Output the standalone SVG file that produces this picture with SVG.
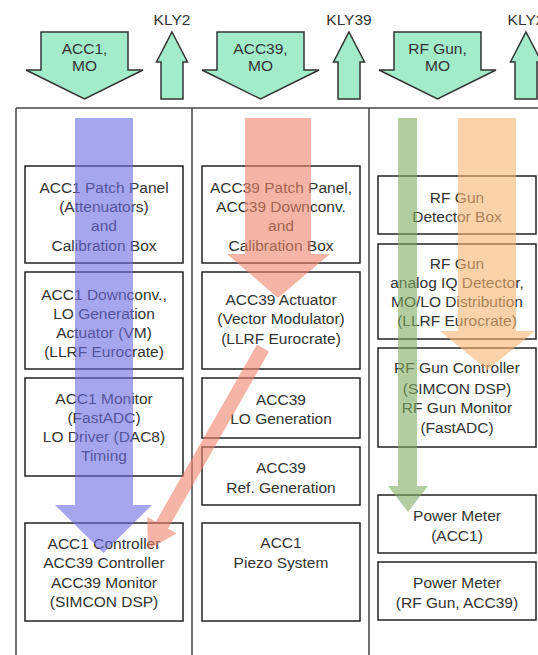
<svg xmlns="http://www.w3.org/2000/svg" width="538" height="655" viewBox="0 0 538 655">
<style>
.bg{fill:#ffffff}
.rail{stroke:#444;stroke-width:1.5;fill:none}
.box{fill:#ffffff;stroke:#222;stroke-width:1.5}
.t{font-family:"Liberation Sans",Arial,sans-serif;font-size:15.5px;fill:#333;text-anchor:middle}
.tarrow{fill:#a3ecc9;stroke:#333;stroke-width:1.5;stroke-linejoin:miter}
.blue{fill:#6a6ae3;fill-opacity:0.6}
.red{fill:#ee8269;fill-opacity:0.6}
.green{fill:#82ac61;fill-opacity:0.6}
.orange{fill:#fab471;fill-opacity:0.6}
</style>
<defs>
<polygon id="down" points="41,32 128,32 128,70 143,70 84.5,99 26,70 41,70"/>
<polygon id="up" points="172,32 187.5,62 183,62 183,99 161,99 161,62 156.5,62"/>
</defs>
<rect class="bg" x="0" y="0" width="538" height="655"/>

<g id="frame">
<line class="rail" x1="16" y1="108" x2="538" y2="108"/>
<line class="rail" x1="16" y1="108" x2="16" y2="655"/>
<line class="rail" x1="192" y1="108" x2="192" y2="655"/>
<line class="rail" x1="369" y1="108" x2="369" y2="655"/>
</g>

<g id="in-acc1">
<use href="#down" class="tarrow"/>
<text class="t" x="84.5" y="53.5">ACC1,</text>
<text class="t" x="84.5" y="70.5">MO</text>
</g>
<g id="out-kly2">
<use href="#up" class="tarrow"/>
<text class="t" x="172" y="24.5">KLY2</text>
</g>
<g id="in-acc39">
<use href="#down" class="tarrow" transform="translate(176,0)"/>
<text class="t" x="260.5" y="53.5">ACC39,</text>
<text class="t" x="260.5" y="70.5">MO</text>
</g>
<g id="out-kly39">
<use href="#up" class="tarrow" transform="translate(177,0)"/>
<text class="t" x="349" y="24.5">KLY39</text>
</g>
<g id="in-rfgun">
<use href="#down" class="tarrow" transform="translate(353,0)"/>
<text class="t" x="437.5" y="53.5">RF Gun,</text>
<text class="t" x="437.5" y="70.5">MO</text>
</g>
<g id="out-kly2b">
<use href="#up" class="tarrow" transform="translate(354,0)"/>
<text class="t" x="526" y="24.5">KLY2</text>
</g>

<g id="acc1-patch">
<rect class="box" x="25" y="166" width="158" height="97"/>
<text class="t" x="104" y="192.5">ACC1 Patch Panel</text>
<text class="t" x="104" y="211.5">(Attenuators)</text>
<text class="t" x="104" y="230.5">and</text>
<text class="t" x="104" y="250.5">Calibration Box</text>
</g>
<g id="acc1-downconv">
<rect class="box" x="25" y="272" width="158" height="97"/>
<text class="t" x="104" y="299.5">ACC1 Downconv.,</text>
<text class="t" x="104" y="318.5">LO Generation</text>
<text class="t" x="104" y="337.5">Actuator (VM)</text>
<text class="t" x="104" y="356.5">(LLRF Eurocrate)</text>
</g>
<g id="acc1-monitor">
<rect class="box" x="25" y="378" width="158" height="98"/>
<text class="t" x="104" y="403.5">ACC1 Monitor</text>
<text class="t" x="104" y="422.5">(FastADC)</text>
<text class="t" x="104" y="441.5">LO Driver (DAC8)</text>
<text class="t" x="104" y="460.5">Timing</text>
</g>
<g id="acc1-controller">
<rect class="box" x="25" y="523" width="158" height="98"/>
<text class="t" x="104" y="548.5">ACC1 Controller</text>
<text class="t" x="104" y="567.5">ACC39 Controller</text>
<text class="t" x="104" y="587.5">ACC39 Monitor</text>
<text class="t" x="104" y="606.5">(SIMCON DSP)</text>
</g>

<g id="acc39-patch">
<rect class="box" x="202" y="166" width="158" height="97"/>
<text class="t" x="281" y="192.5">ACC39 Patch Panel,</text>
<text class="t" x="281" y="211.5">ACC39 Downconv.</text>
<text class="t" x="281" y="230.5">and</text>
<text class="t" x="281" y="250.5">Calibration Box</text>
</g>
<g id="acc39-actuator">
<rect class="box" x="202" y="272" width="158" height="97"/>
<text class="t" x="281" y="304.5">ACC39 Actuator</text>
<text class="t" x="281" y="323.5">(Vector Modulator)</text>
<text class="t" x="281" y="343.5">(LLRF Eurocrate)</text>
</g>
<g id="acc39-lo">
<rect class="box" x="202" y="378" width="158" height="60"/>
<text class="t" x="281" y="405">ACC39</text>
<text class="t" x="281" y="423.5">LO Generation</text>
</g>
<g id="acc39-ref">
<rect class="box" x="202" y="447" width="158" height="58"/>
<text class="t" x="281" y="472.5">ACC39</text>
<text class="t" x="281" y="492.5">Ref. Generation</text>
</g>
<g id="acc1-piezo">
<rect class="box" x="202" y="523" width="158" height="98"/>
<text class="t" x="281" y="547.5">ACC1</text>
<text class="t" x="281" y="567.5">Piezo System</text>
</g>

<g id="rfgun-detector">
<rect class="box" x="378" y="176" width="158" height="58"/>
<text class="t" x="457" y="202.5">RF Gun</text>
<text class="t" x="457" y="221.5">Detector Box</text>
</g>
<g id="rfgun-iq">
<rect class="box" x="378" y="244" width="158" height="95"/>
<text class="t" x="457" y="268.5">RF Gun</text>
<text class="t" x="457" y="287.5">analog IQ Detector,</text>
<text class="t" x="457" y="306.5">MO/LO Distribution</text>
<text class="t" x="457" y="325.5">(LLRF Eurocrate)</text>
</g>
<g id="rfgun-controller">
<rect class="box" x="378" y="348" width="158" height="99"/>
<text class="t" x="457" y="372.5">RF Gun Controller</text>
<text class="t" x="457" y="393.5">(SIMCON DSP)</text>
<text class="t" x="457" y="412.5">RF Gun Monitor</text>
<text class="t" x="457" y="432.5">(FastADC)</text>
</g>
<g id="power-acc1">
<rect class="box" x="378" y="495" width="158" height="58"/>
<text class="t" x="457" y="520.5">Power Meter</text>
<text class="t" x="457" y="540.5">(ACC1)</text>
</g>
<g id="power-rfgun">
<rect class="box" x="378" y="562" width="158" height="58"/>
<text class="t" x="457" y="587.5">Power Meter</text>
<text class="t" x="457" y="607.5">(RF Gun, ACC39)</text>
</g>

<g id="connectors">
<polygon class="blue" points="75,118 133,118 133,505 152,505 103.5,553 55,505 75,505"/>
<polygon class="red" points="245,118 311,118 311,254 330,254 278,298 227,254 245,254"/>
<polygon class="red" transform="translate(263,348) rotate(29.7)" points="-7,0 7,0 7,204 17,204 0,232 -17,204 -7,204"/>
<polygon class="green" points="398,118 417,118 417,486 428,486 408,512 388,486 398,486"/>
<polygon class="orange" points="458,118 516,118 516,331 535,331 487.5,370 440,331 458,331"/>
</g>
</svg>
